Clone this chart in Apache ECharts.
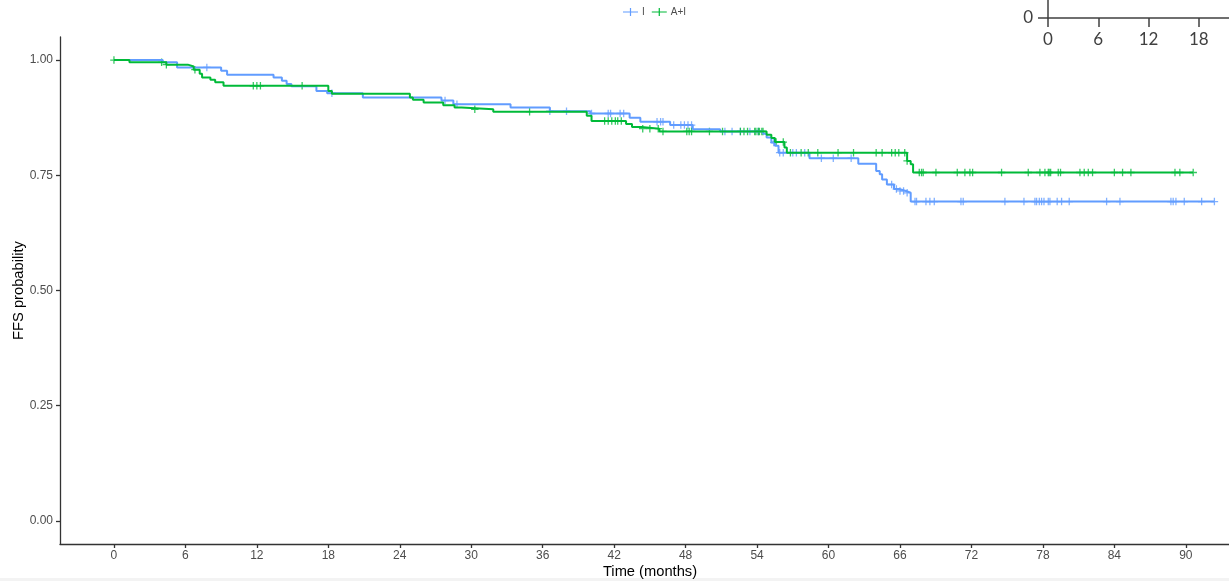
<!DOCTYPE html>
<html>
<head>
<meta charset="utf-8">
<script src="https://cdn.jsdelivr.net/npm/echarts@6.0.0/dist/echarts.min.js"></script>
<style>
  html, body { margin: 0; padding: 0; background: #ffffff; }
  #chart { width: 1229px; height: 581px; }
</style>
</head>
<body>
<div id="chart"></div>
<script>
// ---------------- data ----------------
const timeTicks = [0, 6, 12, 18, 24, 30, 36, 42, 48, 54, 60, 66, 72, 78, 84, 90];
const probTicks = [0, 0.25, 0.5, 0.75, 1];
const insetTimeTicks = [0, 6, 12, 18, 24];
const insetYTicks = [0];
const groupNames = ['I', 'A+I'];
const groupColors = ['#619CFF', '#00BA38'];

// Kaplan-Meier steps: [time (months), survival after the event]
const stepsI = [
  [0, 1.000], [4.1, 0.995], [5.3, 0.984], [9.0, 0.977], [9.5, 0.968], [13.4, 0.962],
  [14.1, 0.955], [14.5, 0.948], [14.9, 0.943], [17.0, 0.933], [17.9, 0.928], [20.9, 0.919],
  [27.5, 0.912], [28.5, 0.904], [33.3, 0.897], [36.6, 0.889], [40.0, 0.884], [43.3, 0.875],
  [44.2, 0.866], [46.7, 0.859], [48.6, 0.850], [50.9, 0.845], [54.5, 0.840], [54.8, 0.832],
  [55.2, 0.821], [55.5, 0.814], [55.8, 0.799], [58.4, 0.787], [62.5, 0.775], [64.0, 0.759],
  [64.3, 0.752], [64.5, 0.741], [64.9, 0.730], [65.5, 0.720], [66.0, 0.716], [66.5, 0.712],
  [66.9, 0.693], [92.4, 0.693]
];
const censorI = [
  7.8, 18.3, 27.8, 28.8, 36.6, 38.0, 40.1, 41.5, 41.7, 42.5, 42.8, 45.6, 45.9, 46.1,
  47.0, 47.6, 47.9, 48.2, 48.5, 51.3, 51.9, 52.6, 53.4, 54.1, 55.4, 55.9, 56.2, 57.0,
  57.3, 58.0, 59.4, 60.4, 61.9, 65.3, 65.7, 66.0, 66.3, 66.6, 67.26, 67.39, 68.18, 68.51,
  68.88, 71.12, 71.31, 74.81, 76.41, 77.33, 77.47, 77.7, 77.89, 78.09, 78.45, 78.59,
  79.2, 79.57, 80.21, 83.35, 84.47, 88.75, 88.94, 89.17, 89.87, 91.33, 92.4
];

const stepsAI = [
  [0, 1.000], [1.3, 0.995], [4.4, 0.990], [6.2, 0.986], [6.7, 0.979], [7.2, 0.970],
  [7.4, 0.962], [8.1, 0.957], [8.5, 0.952], [9.2, 0.944], [18.0, 0.933], [18.3, 0.927],
  [24.85, 0.919], [25.1, 0.914], [26.0, 0.908], [27.65, 0.902], [28.6, 0.897], [29.2, 0.893],
  [31.85, 0.888], [39.7, 0.879], [40.1, 0.868], [43.0, 0.861], [43.5, 0.855], [44.3, 0.851],
  [45.8, 0.845], [54.8, 0.838], [55.2, 0.831], [55.5, 0.822], [56.3, 0.810], [56.5, 0.799],
  [66.6, 0.781], [66.9, 0.774], [67.1, 0.756], [90.6, 0.756]
];
const censorAI = [
  0.0, 4.0, 4.4, 6.8, 11.7, 12.0, 12.3, 15.8, 30.3, 34.9, 41.2, 41.5, 41.8, 42.1, 42.3,
  42.6, 44.4, 45.0, 45.7, 46.1, 48.1, 48.3, 48.5, 50.0, 51.1, 52.6, 52.9, 53.2, 53.8,
  53.9, 54.1, 54.2, 54.4, 54.5, 55.6, 56.2, 56.8, 57.7, 58.3, 59.1, 60.8, 62.1, 64.0,
  64.5, 65.3, 65.6, 65.9, 66.4, 66.6, 67.62, 67.81, 67.95, 69.02, 70.81, 71.45, 71.87,
  72.1, 74.53, 76.77, 77.75, 78.17, 78.45, 78.53, 78.65, 79.29, 79.48, 81.11, 81.47,
  81.81, 82.17, 84.0, 84.69, 85.39, 89.09, 89.5, 90.62
];

// ---------------- helpers ----------------
function survAt(steps, t) {
  let s = steps[0][1];
  for (const p of steps) { if (p[0] <= t + 1e-9) s = p[1]; else break; }
  return s;
}
const plusPath = 'path://M-0.17,-1 H0.17 V-0.17 H1 V0.17 H0.17 V1 H-0.17 V0.17 H-1 V-0.17 H-0.17 Z';
const legendIcon = 'path://M0,3.4 H15 V4.6 H0 Z M6.9,0 H8.1 V8 H6.9 Z';

const groups = [
  { name: groupNames[0], color: groupColors[0], steps: stepsI, censor: censorI },
  { name: groupNames[1], color: groupColors[1], steps: stepsAI, censor: censorAI }
];

const series = [];
groups.forEach(g => {
  series.push({
    name: g.name, type: 'line', step: 'end', data: g.steps,
    xAxisIndex: 0, yAxisIndex: 0,
    showSymbol: false, symbol: 'none',
    lineStyle: { color: g.color, width: 2 },
    itemStyle: { color: g.color },
    animation: false, silent: true
  });
  series.push({
    name: g.name, type: 'scatter',
    data: g.censor.map(t => [t, survAt(g.steps, t)]),
    xAxisIndex: 0, yAxisIndex: 0,
    symbol: plusPath, symbolSize: 7.5,
    itemStyle: { color: g.color },
    animation: false, silent: true
  });
});

const axisColor = '#333333';
const labelColor = '#4d4d4d';
const font = 'Liberation Sans, Arial, sans-serif';

const option = {
  backgroundColor: '#ffffff',
  animation: false,
  legend: {
    data: groups.map(g => ({ name: g.name, icon: legendIcon, itemStyle: { color: g.color } })),
    left: 618, top: 2,
    itemWidth: 15, itemHeight: 8, itemGap: 7,
    textStyle: { fontFamily: font, fontSize: 10, color: labelColor, padding: [0, 0, 0, -1] },
    selectedMode: false
  },
  grid: [
    { left: 60, top: 37, width: 1180, height: 507, containLabel: false, outerBoundsMode: 'none' },
    { left: 1048, top: 0, width: 201, height: 18, containLabel: false, outerBoundsMode: 'none' }
  ],
  xAxis: [
    {
      type: 'value', gridIndex: 0, min: -4.53, max: 94.55,
      axisLine: { show: true, onZero: false, lineStyle: { color: axisColor, width: 1.3 } },
      axisTick: { show: true, customValues: timeTicks, length: 4, lineStyle: { color: axisColor, width: 1.3 } },
      axisLabel: { customValues: timeTicks, margin: 6, fontFamily: font, fontSize: 12, color: labelColor },
      splitLine: { show: false },
      name: 'Time (months)', nameLocation: 'middle', nameGap: 20, nameMoveOverlap: false,
      nameTextStyle: { fontFamily: font, fontSize: 14.7, color: '#000000' }
    },
    {
      type: 'value', gridIndex: 1, min: 0, max: 24,
      axisLine: { show: true, onZero: false, lineStyle: { color: '#404040', width: 1.5 } },
      axisTick: { show: true, customValues: insetTimeTicks, length: 9, lineStyle: { color: '#404040', width: 1.5 } },
      axisLabel: { customValues: insetTimeTicks, margin: 13, fontFamily: 'Lato, Open Sans, sans-serif', fontSize: 17, color: '#404040' },
      splitLine: { show: false }
    }
  ],
  yAxis: [
    {
      type: 'value', gridIndex: 0, min: -0.05, max: 1.05,
      axisLine: { show: true, onZero: false, lineStyle: { color: axisColor, width: 1.3 } },
      axisTick: { show: true, customValues: probTicks, length: 4, lineStyle: { color: axisColor, width: 1.3 } },
      axisLabel: { customValues: probTicks, margin: 7, fontFamily: font, fontSize: 12, color: labelColor,
                   formatter: v => Number(v).toFixed(2) },
      splitLine: { show: false },
      name: 'FFS probability', nameLocation: 'middle', nameGap: 34, nameRotate: 90, nameMoveOverlap: false,
      nameTextStyle: { fontFamily: font, fontSize: 14.7, color: '#000000' }
    },
    {
      type: 'value', gridIndex: 1, min: 0, max: 1,
      axisLine: { show: true, onZero: false, lineStyle: { color: '#404040', width: 1.5 } },
      axisTick: { show: true, customValues: insetYTicks, length: 10, lineStyle: { color: '#404040', width: 1.5 } },
      axisLabel: { customValues: insetYTicks, margin: 15, fontFamily: 'Lato, Open Sans, sans-serif', fontSize: 17, color: '#404040' },
      splitLine: { show: false }
    }
  ],
  graphic: [
    { type: 'rect', left: 0, top: 578, shape: { width: 1229, height: 3 }, style: { fill: '#f3f3f3' }, silent: true }
  ],
  series: series
};

const chart = echarts.init(document.getElementById('chart'), null, { renderer: 'canvas', width: 1229, height: 581 });
chart.setOption(option);
</script>
</body>
</html>
